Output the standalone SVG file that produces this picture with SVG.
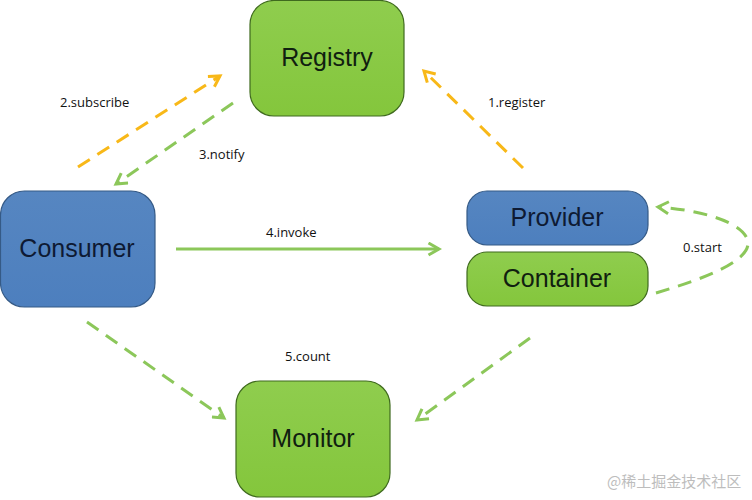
<svg xmlns="http://www.w3.org/2000/svg" width="752" height="500" viewBox="0 0 752 500">
<style>
.green{fill:url(#gg);stroke:#3f6a1e;stroke-width:1.2}
.blue{fill:url(#bg);stroke:#355a86;stroke-width:1.2}
.nt{font-family:"Liberation Sans","Noto Sans",sans-serif;font-size:25px;fill:#102010;text-anchor:middle}
.bt{fill:#0e1a33}
.lb{font-family:"Open Sans","Liberation Sans",sans-serif;font-size:13px;fill:#111}
.g{stroke:#8cc75a;stroke-width:3;fill:none}
.y{stroke:#f8b818;stroke-width:3;fill:none}
.d{stroke-dasharray:14 9}
</style>
<defs>
<linearGradient id="gg" x1="0" y1="0" x2="0" y2="1"><stop offset="0" stop-color="#8fcd4e"/><stop offset="1" stop-color="#84c63c"/></linearGradient>
<linearGradient id="bg" x1="0" y1="0" x2="0" y2="1"><stop offset="0" stop-color="#5686c1"/><stop offset="1" stop-color="#4d7fbe"/></linearGradient>
<marker id="ag" viewBox="0 0 10 10" refX="8" refY="5" markerWidth="5" markerHeight="5" orient="auto" markerUnits="strokeWidth"><path d="M1,1 L8,5 L1,9" fill="none" stroke="#8cc75a" stroke-width="2"/></marker>
<marker id="ay" viewBox="0 0 10 10" refX="8" refY="5" markerWidth="5" markerHeight="5" orient="auto" markerUnits="strokeWidth"><path d="M1,1 L8,5 L1,9" fill="none" stroke="#f8b818" stroke-width="2"/></marker>
</defs>
<g id="connectors">
<line class="y d" x1="78" y1="167" x2="220" y2="76" marker-end="url(#ay)"/>
<line class="g d" x1="233" y1="103" x2="116" y2="184" marker-end="url(#ag)"/>
<line class="y d" x1="523" y1="168" x2="424" y2="71" marker-end="url(#ay)"/>
<line class="g" x1="176" y1="249" x2="439" y2="249" marker-end="url(#ag)"/>
<path class="g d" d="M656,293 C700,280 750,262 748,242 C745,222 700,210 658,207" marker-end="url(#ag)"/>
<line class="g d" x1="87" y1="322" x2="224" y2="418" marker-end="url(#ag)"/>
<line class="g d" x1="530" y1="338" x2="417" y2="420" marker-end="url(#ag)"/>
</g>
<g id="registry"><rect class="green" x="250" y="0.5" width="154" height="115.5" rx="24"/><text class="nt" x="327" y="66">Registry</text></g>
<g id="consumer"><rect class="blue" x="0.5" y="191" width="154.5" height="116" rx="24"/><text class="nt bt" x="77" y="257">Consumer</text></g>
<g id="provider"><rect class="blue" x="467" y="191" width="181" height="54" rx="20"/><text class="nt bt" x="557" y="226">Provider</text></g>
<g id="container"><rect class="green" x="467" y="252" width="181" height="54" rx="20"/><text class="nt" x="557" y="287">Container</text></g>
<g id="monitor"><rect class="green" x="236" y="381" width="154" height="116" rx="24"/><text class="nt" x="313" y="447">Monitor</text></g>
<g id="labels">
<text class="lb" x="60" y="107">2.subscribe</text>
<text class="lb" x="199" y="159">3.notify</text>
<text class="lb" x="488" y="107">1.register</text>
<text class="lb" x="266" y="237">4.invoke</text>
<text class="lb" x="683" y="252">0.start</text>
<text class="lb" x="285" y="361">5.count</text>
</g>
<text x="607" y="487" font-family="'Noto Sans CJK SC',sans-serif" font-size="15" fill="#bdbdbd">@稀土掘金技术社区</text>
</svg>
